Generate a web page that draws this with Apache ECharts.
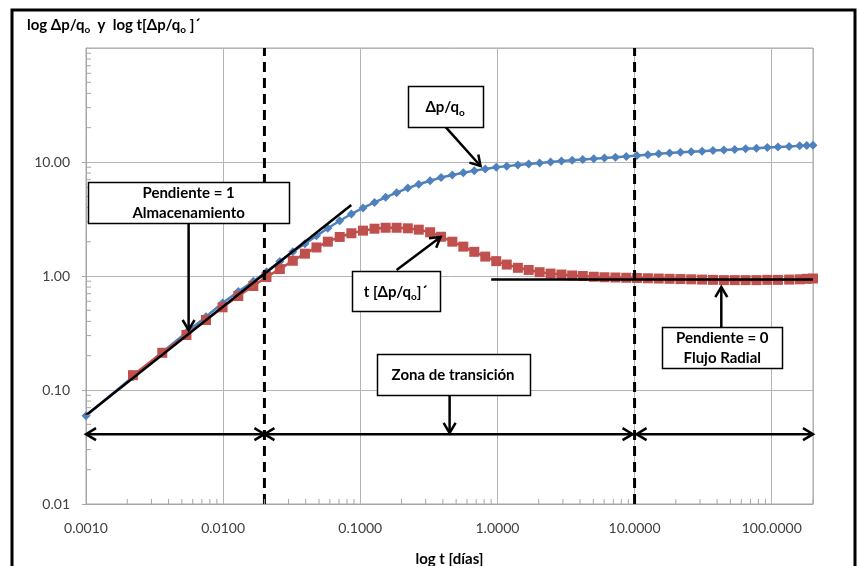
<!DOCTYPE html>
<html><head><meta charset="utf-8">
<script src="https://cdn.jsdelivr.net/npm/echarts@6/dist/echarts.min.js"></script>
<style>html,body{margin:0;padding:0;background:#fff}#c{width:858px;height:566px}</style>
</head><body><div id="c"></div>
<script>
// ---- data (t in days) ----
const tDias = [0.001,0.0022,0.0036,0.0054,0.0075,0.0099,0.0129,0.0166,0.0207,0.0259,0.0322,0.0395,0.0479,0.058,0.0708,0.0861,0.1047,0.127,0.153,0.184,0.222,0.267,0.323,0.388,0.469,0.564,0.678,0.815,0.98,1.17,1.41,1.69,2.03,2.44,2.93,3.51,4.19,5.04,6.03,7.25,8.7,10.4,12.5,15.0,18.0,21.6,25.9,31.1,37.3,44.8,53.7,64.5,77.4,92.9,111,134,160,180,200];
const deltaP = [0.0595,0.131,0.215,0.32,0.44,0.58,0.73,0.90,1.09,1.34,1.63,1.92,2.25,2.62,3.05,3.5,3.95,4.42,4.9,5.38,5.9,6.38,6.85,7.3,7.7,8.05,8.4,8.7,9.0,9.2,9.4,9.6,9.8,10.0,10.2,10.35,10.5,10.7,10.85,11.0,11.2,11.4,11.6,11.8,12.0,12.15,12.3,12.45,12.6,12.75,12.9,13.05,13.2,13.4,13.55,13.7,13.85,13.95,14.0];
const derivada = [null,0.135,0.212,0.304,0.411,0.531,0.668,0.817,0.98,1.15,1.36,1.57,1.78,2.0,2.2,2.37,2.50,2.60,2.65,2.65,2.62,2.55,2.42,2.21,2.00,1.81,1.63,1.48,1.35,1.26,1.18,1.13,1.08,1.05,1.03,1.01,1.00,0.985,0.975,0.97,0.965,0.96,0.955,0.95,0.945,0.94,0.935,0.93,0.925,0.92,0.92,0.92,0.92,0.925,0.925,0.93,0.935,0.945,0.95];

const xTickValues = [0.001,0.01,0.1,1,10,100];
const xTickLabels = ['0.0010','0.0100','0.1000','1.0000','10.0000','100.0000'];
const yTickValues = [0.01,0.1,1,10];
const yTickLabels = ['0.01','0.10','1.00','10.00'];

// annotation geometry (data coordinates)
const slopeOneLine = [[0.001,0.06],[0.086,4.2]];
const slopeZeroLine = [[0.9,0.93],[200,0.93]];
const limitT = [0.02, 10];
const rangeLevel = 0.041;
const rangeT = [0.001, 0.02, 10, 200];
const boxes = [
  {c:[0.0056,4.41], w:201, h:41, lines:[['Pendiente = 1'],['Almacenamiento']]},
  {c:[0.415,30.7], w:75, h:41, lines:[['Δp/q','o','']]},
  {c:[0.181,0.739], w:88, h:40, lines:[['t [Δp/q','o',']´']]},
  {c:[0.475,0.1368], w:153, h:41, lines:[['Zona de transición']]},
  {c:[43.6,0.236], w:120, h:41, lines:[['Pendiente = 0'],['Flujo Radial']]}
];
const callouts = [
  {from:[0.0056,2.92], to:[0.0056,0.336]},
  {from:[0.418,20.3], to:[0.753,9.22]},
  {from:[0.184,1.129], to:[0.385,2.20]},
  {from:[0.448,0.0904], to:[0.448,0.042]},
  {from:[42.9,0.357], to:[42.9,0.80]}
];

const FONT = 'Lato, "Open Sans", "Liberation Sans", sans-serif';
const AXC = '#a6a6a6';
function lab(vals, labels){
  return v => { for (let i=0;i<vals.length;i++){ if (Math.abs(Math.log10(v)-Math.log10(vals[i]))<1e-6) return labels[i]; } return ''; };
}

const chart = echarts.init(document.getElementById('c'));
chart.setOption({
  animation:false,
  backgroundColor:'#fff',
  grid:{left:86,right:45,top:48,bottom:62,show:true,borderColor:AXC,borderWidth:1,outerBoundsMode:'none'},
  xAxis:{type:'log',logBase:10,min:0.001,max:200,splitNumber:6,
    name:'log t [días]',nameLocation:'middle',nameGap:48,
    nameTextStyle:{fontFamily:FONT,fontWeight:'bold',fontSize:15,color:'#000'},
    axisLine:{show:true,lineStyle:{color:AXC}},axisTick:{show:false},
    axisLabel:{color:'#404040',fontSize:14,fontFamily:FONT,margin:17,showMaxLabel:false,formatter:lab(xTickValues,xTickLabels)},
    splitLine:{show:true,lineStyle:{color:'#b4b4b4',width:1}}},
  yAxis:{type:'log',logBase:10,min:0.01,max:100,splitNumber:4,
    axisLine:{show:true,lineStyle:{color:AXC}},axisTick:{show:true,inside:false,length:4,lineStyle:{color:AXC}},
    axisLabel:{color:'#404040',fontSize:14,fontFamily:FONT,margin:16,showMaxLabel:false,formatter:lab(yTickValues,yTickLabels)},
    splitLine:{show:true,lineStyle:{color:'#b4b4b4',width:1}}},
  series:[
    {type:'line',name:'Δp/qo',data:tDias.map((t,i)=>[t,deltaP[i]]),symbol:'diamond',symbolSize:9,
      itemStyle:{color:'#4F81BD'},lineStyle:{color:'#4F81BD',width:2.5},z:3},
    {type:'line',name:'t[Δp/qo]´',data:tDias.map((t,i)=>[t,derivada[i]]),symbol:'rect',symbolSize:10,connectNulls:false,
      itemStyle:{color:'#C0504D'},lineStyle:{color:'#C0504D',width:2.5},z:4},
    {type:'line',data:slopeOneLine,symbol:'none',lineStyle:{color:'#000',width:2.5},z:5},
    {type:'line',data:slopeZeroLine,symbol:'none',lineStyle:{color:'#000',width:2.5},z:5},
    {type:'line',data:[[limitT[0],0.01],[limitT[0],100]],symbol:'none',lineStyle:{color:'#000',width:3,type:[10,6]},z:5},
    {type:'line',data:[[limitT[1],0.01],[limitT[1],100]],symbol:'none',lineStyle:{color:'#000',width:3,type:[10,6]},z:5}
  ]
});

function P(t,v){ return chart.convertToPixel({gridIndex:0},[t,v]); }
const g = [];
// outer border
g.push({type:'rect',shape:{x:12,y:10,width:843,height:570},style:{fill:null,stroke:'#000',lineWidth:3},z:1});
// title
g.push({type:'text',x:27,y:25,style:{text:'{n|log Δp/q}{s|o}{n|  y  log t[Δp/q}{s|o}{n| ]´}',
  verticalAlign:'middle',align:'left',
  rich:{n:{fontFamily:FONT,fontWeight:'bold',fontSize:15,lineHeight:20,fill:'#000'},
        s:{fontFamily:FONT,fontWeight:'bold',fontSize:10,verticalAlign:'bottom',fill:'#000'}}},z:10});
// minor ticks
const xp0 = P(0.001,0.01);
for (let d=0.001; d<=100; d*=10){ for (let k=2;k<=9;k++){ const t=k*d; if (t>200) break; const p=P(t,0.01);
  g.push({type:'line',shape:{x1:p[0],y1:xp0[1],x2:p[0],y2:xp0[1]-5},style:{stroke:AXC,lineWidth:1},z:6}); } }
for (let d=0.01; d<=10; d*=10){ for (let k=2;k<=9;k++){ const p=P(0.001,k*d);
  g.push({type:'line',shape:{x1:xp0[0],y1:p[1],x2:xp0[0]+5,y2:p[1]},style:{stroke:AXC,lineWidth:1},z:6}); } }

function head(tip, from){
  const dx=tip[0]-from[0], dy=tip[1]-from[1], L=Math.hypot(dx,dy), ux=dx/L, uy=dy/L, len=10, w=6;
  const bx=tip[0]-ux*len, by=tip[1]-uy*len;
  return {type:'polyline',shape:{points:[[bx-uy*w,by+ux*w],[tip[0],tip[1]],[bx+uy*w,by-ux*w]]},style:{stroke:'#000',lineWidth:2.5,fill:null},z:8};
}
function arrow(a,b,both){
  g.push({type:'line',shape:{x1:a[0],y1:a[1],x2:b[0],y2:b[1]},style:{stroke:'#000',lineWidth:2.5},z:8});
  g.push(head(b,a)); if (both) g.push(head(a,b));
}
for (let i=0;i<rangeT.length-1;i++){
  const a=P(rangeT[i],rangeLevel), b=P(rangeT[i+1],rangeLevel);
  arrow([a[0]+(i===2?2:0),a[1]],[b[0]-(i===1?2:0),b[1]],true);
}
callouts.forEach(c=>arrow(P(c.from[0],c.from[1]),P(c.to[0],c.to[1]),false));
boxes.forEach(b=>{
  const p=P(b.c[0],b.c[1]);
  g.push({type:'rect',shape:{x:Math.round(p[0]-b.w/2)+0.5,y:Math.round(p[1]-b.h/2)+0.5,width:b.w,height:b.h},style:{fill:'#fff',stroke:'#000',lineWidth:1.5},z:9});
  const txt = b.lines.map(l=> l.length===1 ? '{n|'+l[0]+'}' : '{n|'+l[0]+'}{s|'+l[1]+'}'+(l[2]?'{n|'+l[2]+'}':'')).join('\n');
  g.push({type:'text',x:p[0],y:p[1]+1,style:{text:txt,align:'center',verticalAlign:'middle',
    rich:{n:{fontFamily:FONT,fontWeight:'bold',fontSize:15,lineHeight:20,fill:'#000'},
          s:{fontFamily:FONT,fontWeight:'bold',fontSize:10,verticalAlign:'bottom',fill:'#000'}}},z:10});
});
chart.setOption({graphic:g});
</script></body></html>
